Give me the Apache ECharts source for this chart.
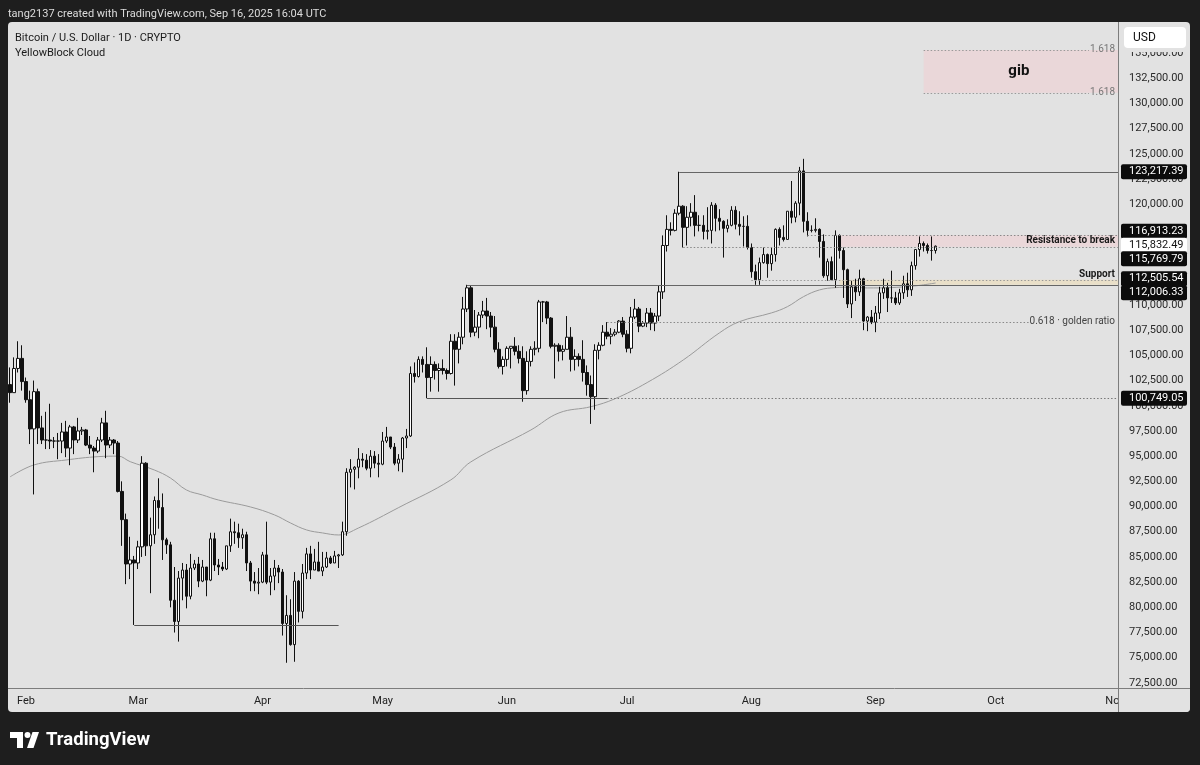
<!DOCTYPE html>
<html><head><meta charset="utf-8">
<script src="https://cdn.jsdelivr.net/npm/echarts@6/dist/echarts.min.js"></script>
<style>
html,body{margin:0;padding:0;background:#1e1e1e;width:1200px;height:765px;overflow:hidden;}
#panel{position:absolute;left:8px;top:22px;width:1182px;height:690px;background:#e2e2e2;border-radius:4px;}
#c{position:absolute;left:0;top:0;width:1200px;height:765px;}
</style>
</head><body><div id="panel"></div><div id="c"></div>
<script>
// ---------- DATA (daily candles, [open, high, low, close]) ----------
const jan = [[102100,103800,100300,101300],[101300,104800,101300,103700],[103700,106400,103300,104700],[104700,106000,101500,102400]];
const feb = [[102400,102800,100300,100600],[100600,101500,96200,97700],[97700,102500,91200,101400],[101400,101700,96200,97800],[97800,99000,96200,96600],[96600,99400,95700,96600],[96600,100200,95700,96500],[96500,96900,95800,96500],[96500,97300,94700,96500],[96500,98300,95300,97400],[97400,98500,94900,95800],[95800,98100,94100,97900],[97900,98000,95200,96600],[96600,98800,96300,97500],[97500,97900,97100,97600],[97600,97700,96000,96100],[96100,97000,95200,95800],[95800,96000,93400,95500],[95500,96900,95300,96600],[96600,98800,96400,98300],[98300,99500,94800,96100],[96100,96900,95800,96600],[96600,96700,95200,96300],[96300,96500,91400,91500],[91500,92500,86100,88700],[88700,89300,82300,84300],[84300,87000,82800,84700],[84700,85100,78250,84400]];
const mar = [[84400,86600,83800,86000],[86000,95000,85000,94300],[94300,94400,85100,86100],[86100,88900,81400,87200],[87200,91000,86300,90600],[90600,92800,87800,89900],[89900,91300,84700,86700],[86700,86900,85300,86200],[86200,86500,80000,80700],[80700,84000,77500,78600],[78600,83600,76600,82900],[82900,84400,80700,83700],[83700,84300,79900,81100],[81100,85300,80800,83900],[83900,84700,83700,84300],[84300,85000,82000,82600],[82600,84700,82500,84000],[84000,84000,81100,82700],[82700,87400,82600,86800],[86800,87400,83600,84200],[84200,84800,83200,84000],[84000,84500,83600,83800],[83800,86100,83700,86100],[86100,88800,85500,87500],[87500,88500,86300,87400],[87400,88300,85900,86900],[86900,87800,85800,87200],[87200,87500,83600,84400],[84400,84600,81600,82600],[82600,83500,81600,82400],[82400,83900,81300,82500]];
const apr = [[82500,85500,82400,85200],[85200,88500,82300,82500],[82500,83900,81200,83100],[83100,84700,81700,83900],[83900,84200,82400,83500],[83500,83800,77200,78400],[78400,81200,74500,79200],[79200,80800,76200,76300],[76300,83500,74600,82600],[82600,82700,78500,79600],[79600,84300,78900,83400],[83400,85900,82800,85300],[85300,86100,82800,83700],[83700,85800,83700,84500],[84500,86500,83600,83600],[83600,85500,83100,84000],[84000,85500,83900,84900],[84900,85100,84300,84400],[84400,85600,84400,85100],[85100,85300,83900,85200],[85200,88500,85100,87500],[87500,93800,87100,93400],[93400,94700,91900,93700],[93700,94000,91700,93900],[93900,95800,92800,94700],[94700,95300,93900,94600],[94600,95200,93600,93800],[93800,95600,92900,95000],[95000,95500,93800,94300],[94300,95200,92900,94200]];
const may = [[94200,97400,94100,96500],[96500,97900,96300,96900],[96900,96900,95700,95900],[95900,96300,94100,94300],[94300,95200,93500,94700],[94700,96900,93400,96800],[96800,97700,95800,97000],[97000,103900,96900,103200],[103200,104300,102300,102900],[102900,104900,102800,104600],[104600,104900,103300,104100],[104100,105800,100750,102800],[102800,104900,101400,104100],[104100,104400,102600,103500],[103500,104200,101400,103700],[103700,104600,103100,103500],[103500,103700,102600,103200],[103200,107100,103100,106400],[106400,107100,102000,105600],[105600,107300,104200,106800],[106800,110800,106100,109600],[109600,112000,109300,111700],[111700,111900,106800,107300],[107300,109500,106900,107800],[107800,109300,106700,109000],[109000,110400,108700,109400],[109400,110700,107600,108900],[108900,109300,106800,107800],[107800,108900,105300,105600],[105600,106300,103700,103900],[103900,104900,103100,104600]];
const jun = [[104600,105900,103900,105700],[105700,105900,103700,105900],[105900,106800,105000,105400],[105400,106000,104200,104700],[104700,105900,100400,101500],[101500,105400,101100,104400],[104400,105900,103900,105600],[105600,106400,105000,105700],[105700,110500,105300,110300],[110300,110400,108300,110300],[110300,110400,108100,108700],[108700,108800,105700,105900],[105900,106200,102700,106000],[106000,106200,104400,105400],[105400,106000,104500,105600],[105600,108900,105600,106800],[106800,107800,103400,104600],[104600,105600,103500,104900],[104900,105200,103900,104600],[104600,106500,102400,103300],[103300,104000,101000,102100],[102100,103000,98200,100900],[100900,106100,99600,105500],[105500,106300,104600,106000],[106000,108000,105900,107300],[107300,108300,106600,106900],[106900,107700,106100,107100],[107100,107600,106900,107300],[107300,108500,107200,108400],[108400,108800,106800,107100]];
const jul = [[107100,107500,105300,105700],[105700,109800,105200,108800],[108800,110600,108600,109600],[109600,109800,107300,107900],[107900,108400,107800,108200],[108200,109700,107800,109200],[109200,109700,107500,108200],[108200,109200,107400,108900],[108900,111900,108400,111300],[111300,116900,110600,115900],[115900,118900,115300,117500],[117500,118200,116900,117400],[117400,119500,117300,119100],[119100,123217,118900,119800],[119800,119900,115700,117700],[117700,119800,115900,118700],[118700,120100,117800,119200],[119200,120900,116800,117900],[117900,118900,117300,117900],[117900,118900,116500,117300],[117300,119700,116500,117400],[117400,120200,116100,119900],[119900,120100,117300,118600],[118600,119500,117400,118300],[118300,118400,114700,117600],[117600,118500,117200,117900],[117900,119800,117800,119400],[119400,119800,117500,118000],[118000,119300,116900,117800],[117800,118800,115800,117800],[117800,118900,115500,115700]];
const aug = [[115700,116100,112700,113300],[113300,114000,112000,112500],[112500,114700,112000,114200],[114200,115700,114100,115000],[115000,115100,112700,114100],[114100,115700,113400,115000],[115000,117600,114300,117500],[117500,117700,115900,116700],[116700,117900,116300,116500],[116500,119300,116500,119300],[119300,122300,118100,118700],[118700,120300,118200,120100],[120100,123700,118900,123300],[123300,124500,117200,118300],[118300,119200,116800,117400],[117400,117900,117200,117400],[117400,118600,117200,117500],[117500,117600,114700,116300],[116300,117000,112700,112900],[112900,114600,112400,114300],[114300,114800,112600,112500],[112500,117400,111700,116900],[116900,117000,114600,115400],[115400,115700,110700,113500],[113500,113600,109700,110100],[110100,112400,108700,111800],[111800,112600,110400,111300],[111300,113500,110900,112600],[112600,112700,107500,108400],[108400,108900,107400,108800],[108800,109500,108100,108300]];
const sep = [[108300,109900,107300,109200],[109200,111800,108600,111200],[111200,112600,110600,111700],[111700,112200,109300,110700],[110700,113400,110200,110700],[110700,111300,110000,110200],[110200,111600,110000,111200],[111200,112900,110600,112100],[112100,113200,110800,111500],[111500,114300,110900,113900],[113900,115500,113500,115500],[115500,116800,114800,116100],[116100,116300,115300,115900],[115900,116100,115100,115400],[115400,116800,114400,115400],[115400,115900,115100,115832.49]];

// moving average (grey curve) at sample dates
const maDates  = ['2025-01-28','2025-02-03','2025-02-11','2025-02-19','2025-02-24','2025-02-27','2025-03-05','2025-03-09','2025-03-13','2025-03-17','2025-03-21','2025-03-29','2025-04-04','2025-04-08','2025-04-12','2025-04-16','2025-04-20','2025-04-25','2025-05-05','2025-05-18','2025-05-23','2025-06-07','2025-06-14','2025-06-22','2025-06-28','2025-07-06','2025-07-15','2025-07-24','2025-07-29','2025-08-06','2025-08-10','2025-08-14','2025-08-18','2025-08-22','2025-08-26','2025-08-30','2025-09-09','2025-09-16'];
const maValues = [92940,94130,94620,94950,95000,94450,93630,92840,91650,91150,90650,89960,89170,88370,87680,87380,87180,87880,89900,92640,94430,97600,99290,99910,100700,102300,104540,107220,108340,109210,109830,110820,111490,111720,111760,111690,111820,112180];

// price levels drawn on the chart
const athLevel = 123217.39;
const resistTop = 116913.23;
const resistBottom = 115769.79;
const lastPrice = 115832.49;
const supportTop = 112505.54;
const supportBottom = 112006.33;
const goldenLevel = 108343;
const rangeLow = 100749.05;
const marchLow = 78250;
const gibTop = 135300;
const gibBottom = 131060;

// axis
const priceTicks = [72500,75000,77500,80000,82500,85000,87500,90000,92500,95000,97500,100000,102500,105000,107500,110000,112500,115000,117500,120000,122500,125000,127500,130000,132500,135000];
const monthNames = ['Jan','Feb','Mar','Apr','May','Jun','Jul','Aug','Sep','Oct','Nov','Dec'];
const yMin = 71996, yMax = 138075;

// ---------- build ----------
const cats = [];
{ const t0 = Date.UTC(2025,0,28); for (let i=0;i<277;i++){ cats.push(new Date(t0+i*86400000).toISOString().slice(0,10)); } }
const ohlc = [].concat(jan,feb,mar,apr,may,jun,jul,aug,sep);
const candleData = ohlc.map(d => [d[0], d[3], d[2], d[1]]);
const idx = d => cats.indexOf(d);
const maData = maDates.map((d,i) => [idx(d), maValues[i]]);

const FONT = 'Roboto, "Noto Sans", sans-serif';
const fmt = v => v.toLocaleString('en-US',{minimumFractionDigits:2, maximumFractionDigits:2});

const chart = echarts.init(document.getElementById('c'), null, {renderer:'canvas', width:1200, height:765});
chart.setOption({
  backgroundColor: 'transparent',
  animation: false,
  grid: {left: 8, right: 82, top: 22, bottom: 77},
  xAxis: {
    type: 'category', data: cats, boundaryGap: true,
    axisLine: {show: false}, axisTick: {show: false}, splitLine: {show: false},
    axisLabel: {
      interval: (i, v) => v.slice(8) === '01',
      formatter: v => monthNames[+v.slice(5,7)-1],
      color: '#222', fontSize: 11, margin: 8, fontFamily: FONT
    }
  },
  yAxis: {
    type: 'value', position: 'right', min: yMin, max: yMax,
    splitLine: {show: false}, axisLine: {show: false}, axisTick: {show: false},
    axisLabel: {customValues: priceTicks, formatter: v => fmt(v), color: '#2a2a2a', fontSize: 11, margin: 11, fontFamily: FONT}
  },
  series: [
    {type: 'line', data: maData, showSymbol: false, smooth: 0.4, z: 1,
     lineStyle: {color: '#9a9a9a', width: 1}, silent: true},
    {type: 'candlestick', data: candleData, barWidth: 3, z: 3,
     itemStyle: {color: '#ffffff', color0: '#111111', borderColor: '#111111', borderColor0: '#111111', borderWidth: 1}}
  ]
});

const X = i => chart.convertToPixel({xAxisIndex: 0}, i);
const Y = v => chart.convertToPixel({yAxisIndex: 0}, v);
const R = 1118;
const crisp = y => Math.round(y) + 0.5;
const g = [];
function hline(x1, x2, v, stroke, dash, w, z) {
  const y = crisp(Y(v));
  g.push({type: 'line', z: z || 4, silent: true, shape: {x1: x1, y1: y, x2: x2, y2: y},
          style: {stroke: stroke, lineWidth: w || 1, lineDash: dash || null}});
}
function txt(x, y, text, opt, z) {
  g.push({type: 'text', z: z || 6, silent: true, x: x, y: y,
    style: Object.assign({text: text, fill: '#222', font: '11px ' + FONT, verticalAlign: 'middle', align: 'left'}, opt || {})});
}
const DOT = [1.5, 2];

// zones
const rz0 = X(idx('2025-08-23'));
g.push({type: 'rect', z: 1, silent: true, shape: {x: rz0, y: Y(resistTop), width: R - rz0, height: Y(resistBottom) - Y(resistTop)}, style: {fill: 'rgba(240,205,210,0.55)'}});
g.push({type: 'rect', z: 1, silent: true, shape: {x: rz0, y: Y(supportTop), width: R - rz0, height: Y(supportBottom) - Y(supportTop)}, style: {fill: 'rgba(236,222,190,0.7)'}});
const gx0 = X(idx('2025-09-13'));
g.push({type: 'rect', z: 1, silent: true, shape: {x: gx0, y: Y(gibTop), width: R - gx0, height: Y(gibBottom) - Y(gibTop)}, style: {fill: 'rgba(240,205,210,0.55)'}});

// lines
hline(X(idx('2025-02-28')), X(idx('2025-04-20')), marchLow, '#555', null, 1.2);
hline(X(idx('2025-05-12')), X(idx('2025-06-26')), rangeLow, '#555', null, 1.2);
hline(X(idx('2025-06-26')), R, rangeLow, '#777', DOT, 1);
hline(X(idx('2025-05-22')), R, supportBottom, '#666', null, 1.2);
hline(X(idx('2025-07-14')), R, athLevel, '#666', null, 1.2);
hline(X(idx('2025-07-15')), R, resistBottom, '#888', DOT, 1);
hline(X(idx('2025-08-15')), R, resistTop, '#888', DOT, 1);
hline(X(idx('2025-08-01')), R, supportTop, '#999', DOT, 1);
hline(X(idx('2025-06-26')), 1030, goldenLevel, '#888', DOT, 1);
hline(gx0, 1089, gibTop, '#999', DOT, 1);
hline(gx0, 1089, gibBottom, '#999', DOT, 1);

// annotation texts
txt(1115, Y((resistTop + resistBottom) / 2) - 0.5, 'Resistance to break', {align: 'right', font: 'bold 10px ' + FONT, fill: '#1a1a1a'});
txt(1115, Y(supportTop) - 5, 'Support', {align: 'right', font: 'bold 10px ' + FONT, fill: '#1a1a1a'});
txt(1115, Y(goldenLevel), '0.618 · golden ratio', {align: 'right', font: '10px ' + FONT, fill: '#444'});
txt(1115, Y(gibTop), '1.618', {align: 'right', font: '10px ' + FONT, fill: '#777'});
txt(1115, Y(gibBottom), '1.618', {align: 'right', font: '10px ' + FONT, fill: '#777'});
txt((gx0 + R) / 2 - 2, (Y(gibTop) + Y(gibBottom)) / 2, 'gib', {align: 'center', font: 'bold 15px ' + FONT, fill: '#111'});

// frame lines
g.push({type: 'line', z: 7, silent: true, shape: {x1: 1118.5, y1: 22, x2: 1118.5, y2: 712}, style: {stroke: '#7d7d7d', lineWidth: 1}});
// "Nov" label partly hidden under the price scale
txt(X(276) - 1, 701, 'Nov', {align: 'center', font: '11px ' + FONT, fill: '#222'});
g.push({type: 'rect', z: 7, silent: true, shape: {x: 1119, y: 689, width: 71, height: 23, r: [0,0,4,0]}, style: {fill: '#e2e2e2'}});
g.push({type: 'line', z: 8, silent: true, shape: {x1: 8, y1: 688.5, x2: 1190, y2: 688.5}, style: {stroke: '#7d7d7d', lineWidth: 1}});
g.push({type: 'line', z: 8, silent: true, shape: {x1: 1118.5, y1: 688, x2: 1118.5, y2: 712}, style: {stroke: '#7d7d7d', lineWidth: 1}});

// price tags on the scale
const tags = [[athLevel, 0], [resistTop, -4], [lastPrice, -1], [resistBottom, 12], [supportTop, -1], [supportBottom, 8], [rangeLow, 0]];
tags.forEach(([v, dy]) => {
  const yc = Y(v) + dy;
  const isLast = v === lastPrice;
  g.push({type: 'rect', z: 9, silent: true, shape: {x: 1121, y: yc - 7.5, width: 66, height: 15, r: 2}, style: {fill: isLast ? '#ffffff' : '#0c0c0c'}});
  g.push({type: 'text', z: 10, silent: true, x: 1129, y: yc, style: {text: fmt(v), fill: isLast ? '#111' : '#fff', font: '11px ' + FONT, verticalAlign: 'middle'}});
});

// USD box
g.push({type: 'rect', z: 8, silent: true, shape: {x: 1120, y: 23, width: 69, height: 29}, style: {fill: '#e2e2e2'}});
g.push({type: 'rect', z: 9, silent: true, shape: {x: 1124, y: 27, width: 62, height: 21, r: 4}, style: {fill: '#ffffff'}});
txt(1133, 37.5, 'USD', {font: '12px ' + FONT, fill: '#111'}, 10);

// header / titles
txt(8, 14, 'tang2137 created with TradingView.com, Sep 16, 2025 16:04 UTC', {font: '11px ' + FONT, fill: '#dcdcdc'});
txt(15, 38, 'Bitcoin / U.S. Dollar · 1D · CRYPTO', {font: '11px ' + FONT, fill: '#1a1a1a'});
txt(15, 53, 'YellowBlock Cloud', {font: '11px ' + FONT, fill: '#1a1a1a'});

// TradingView logo
g.push({type: 'polygon', z: 10, silent: true, shape: {points: [[10,732],[23,732],[23,748],[17,748],[17,738],[10,738]]}, style: {fill: '#ffffff'}});
g.push({type: 'circle', z: 10, silent: true, shape: {cx: 27.5, cy: 735, r: 3}, style: {fill: '#ffffff'}});
g.push({type: 'polygon', z: 10, silent: true, shape: {points: [[27,748],[32.5,732],[39,732],[33.5,748]]}, style: {fill: '#ffffff'}});
txt(46, 740, 'TradingView', {font: 'bold 18.5px ' + FONT, fill: '#ffffff'});

chart.setOption({graphic: {elements: g}});
</script>
</body></html>
